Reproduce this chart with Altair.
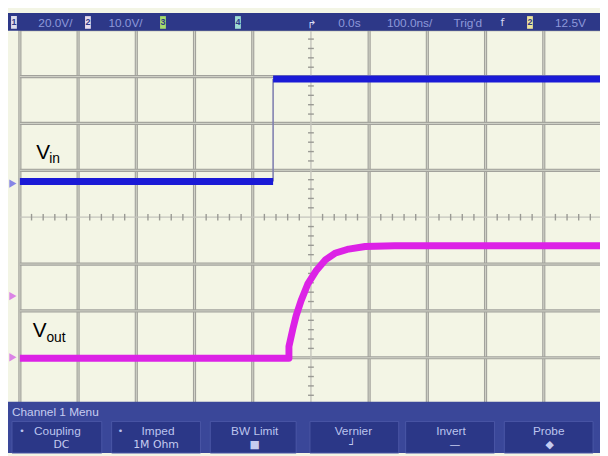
import altair as alt
import pandas as pd

# ---------------- data (time in ns at 100 ns/div, amplitude in screen divisions) -------------
vin_t = [-500, -65, -65, 497]
vin_div = [0.76, 0.76, 2.95, 2.95]

vout_t = [-500, -37.8, -37.8, -31.0, -25.4, -16.9, -5.6, 8.5, 25.4, 42.4, 64.9, 93.2, 144.0, 497]
vout_div = [-3.01, -3.01, -2.76, -2.38, -2.10, -1.78, -1.43, -1.15, -0.905, -0.764, -0.68, -0.625, -0.61, -0.61]

grid_t = [-500, -400, -300, -200, -100, 100, 200, 300, 400]
grid_div = [-4, -3, -2, -1, 1, 2, 3, 4]

status_text = ["20.0V/", "10.0V/", "0.0s", "100.0ns/", "Trig'd", "12.5V"]
status_x = [-439.0, -318.6, 66.1, 169.5, 269.5, 445.8]
chan_boxes = ["1", "2", "3", "4", "2"]
chan_box_x = [-510.2, -383.1, -254.2, -125.4, 376.3]
chan_box_col = ["#dcdcec", "#e6dcee", "#a6dc6c", "#9edcd4", "#ece49c"]

btn_line1 = ["Coupling", "Imped", "BW Limit", "Vernier", "Invert", "Probe"]
btn_line1_x = [-435.6, -262.7, -96.6, 72.9, 240.7, 408.5]
btn_line2 = ["DC", "1M Ohm", "■", "┘", "—", "◆"]
btn_line2_x = [-428.8, -266.1, -96.6, 71.2, 247.5, 410.2]
btn_left = [-513.6, -342.4, -172.9, -1.7, 162.7, 332.2]
btn_right = [-359.3, -189.8, -25.4, 150.8, 315.3, 484.7]

# ---------------- scales ----------------
XMIN, XMAX = -534.0, 496.6
YMIN, YMAX = -5.032, 4.568
xs = alt.Scale(domain=[XMIN, XMAX], nice=False, zero=False)
ys = alt.Scale(domain=[YMIN, YMAX], nice=False, zero=False)


def ex(f="x"):
    return alt.X(f"{f}:Q", scale=xs, axis=None)


def ey(f="y"):
    return alt.Y(f"{f}:Q", scale=ys, axis=None)


FONT = "Liberation Sans"

# ---------------- grid ----------------
vgrid = pd.DataFrame({"x": grid_t, "y": -4.0, "y2": 4.0})
hgrid = pd.DataFrame({"y": grid_div, "x": -500.0, "x2": XMAX})

vg_outer = alt.Chart(vgrid).mark_rule(color="#a2a29c", strokeWidth=3.2).encode(
    x=ex(), y=ey(), y2=alt.Y2("y2:Q"))
vg_inner = alt.Chart(vgrid).mark_rule(color="#d8dace", strokeWidth=0.9).encode(
    x=ex(), y=ey(), y2=alt.Y2("y2:Q"))
hg_outer = alt.Chart(hgrid).mark_rule(color="#a2a29c", strokeWidth=3.2).encode(
    x=ex(), x2=alt.X2("x2:Q"), y=ey())
hg_inner = alt.Chart(hgrid).mark_rule(color="#d8dace", strokeWidth=0.9).encode(
    x=ex(), x2=alt.X2("x2:Q"), y=ey())

cv = alt.Chart(pd.DataFrame({"x": [0.0], "y": [-4.0], "y2": [4.0]})).mark_rule(
    color="#c4c4bc", strokeWidth=1.4).encode(x=ex(), y=ey(), y2=alt.Y2("y2:Q"))
ch = alt.Chart(pd.DataFrame({"y": [0.0], "x": [-500.0], "x2": [XMAX]})).mark_rule(
    color="#c4c4bc", strokeWidth=1.4).encode(x=ex(), x2=alt.X2("x2:Q"), y=ey())

# minor ticks on the centre graticule (0.2 div)
tick_h = pd.DataFrame({"x": [k * 20.0 for k in range(-25, 25) if k % 5 != 0],
                       "y": -0.07, "y2": 0.07})
tick_v = pd.DataFrame({"y": [k * 0.2 for k in range(-20, 21) if k % 5 != 0],
                       "x": -5.0, "x2": 5.0})
th = alt.Chart(tick_h).mark_rule(color="#9a9a94", strokeWidth=1.4).encode(
    x=ex(), y=ey(), y2=alt.Y2("y2:Q"))
tv = alt.Chart(tick_v).mark_rule(color="#9a9a94", strokeWidth=1.4).encode(
    x=ex(), x2=alt.X2("x2:Q"), y=ey())

# ---------------- traces ----------------
vin_df = pd.DataFrame({"x": vin_t, "y": vin_div, "i": range(len(vin_t)),
                       "seg": ["lo", "lo", "hi", "hi"]})
vin_line = alt.Chart(vin_df).mark_line(color="#1a1ad6", strokeWidth=7, strokeCap="butt").encode(
    x=ex(), y=ey(), detail="seg:N", order="i:Q")
edge_df = pd.DataFrame({"x": [vin_t[1]], "y": [vin_div[1]], "y2": [vin_div[2]]})
vin_edge = alt.Chart(edge_df).mark_rule(color="#8080b0", strokeWidth=1.6).encode(
    x=ex(), y=ey(), y2=alt.Y2("y2:Q"))

vout_df = pd.DataFrame({"x": vout_t, "y": vout_div, "i": range(len(vout_t))})
vout_line = alt.Chart(vout_df).mark_line(color="#dc22e6", strokeWidth=7, strokeJoin="round",
                                         strokeCap="butt").encode(x=ex(), y=ey(), order="i:Q")

# ---------------- trace labels ----------------
lab_main = pd.DataFrame({"x": [-460.2, -466.1], "y": [1.242, -2.547], "t": ["V", "V"]})
lab_sub = pd.DataFrame({"x": [-449.5, -454.5], "y": [1.158, -2.653], "t": ["in", "out"]})
lm = alt.Chart(lab_main).mark_text(font=FONT, fontSize=21, color="#000000", align="center",
                                   baseline="alphabetic").encode(x=ex(), y=ey(), text="t:N")
ls = alt.Chart(lab_sub).mark_text(font=FONT, fontSize=14, color="#000000", align="left",
                                  baseline="alphabetic").encode(x=ex(), y=ey(), text="t:N")

# channel markers at left edge
mk = pd.DataFrame({"x": [-512.0, -512.0, -512.0], "y": [0.716, -1.684, -2.99],
                   "c": ["#7a7ae6", "#d878e6", "#d878e6"]})
markers = alt.Chart(mk).mark_point(shape="triangle-right", filled=True, size=70, opacity=0.9).encode(
    x=ex(), y=ey(), color=alt.Color("c:N", scale=None))

# ---------------- status bar ----------------
top_bar = alt.Chart(pd.DataFrame({"x": [XMIN], "x2": [XMAX], "y": [3.98], "y2": [4.358]})).mark_rect(
    color="#2d3888").encode(x=ex(), x2=alt.X2("x2:Q"), y=ey(), y2=alt.Y2("y2:Q"))
st_df = pd.DataFrame({"x": status_x, "y": 4.15, "t": status_text})
st_text = alt.Chart(st_df).mark_text(font=FONT, fontSize=12, color="#8e98da", align="center",
                                     baseline="middle").encode(x=ex(), y=ey(), text="t:N")
cb_df = pd.DataFrame({"x": [v - 5 for v in chan_box_x], "x2": [v + 5 for v in chan_box_x],
                      "y": 4.02, "y2": 4.29, "t": chan_boxes, "c": chan_box_col, "xc": chan_box_x,
                      "ym": 4.155})
cb_rect = alt.Chart(cb_df).mark_rect().encode(x=ex(), x2=alt.X2("x2:Q"), y=ey(), y2=alt.Y2("y2:Q"),
                                              color=alt.Color("c:N", scale=None))
cb_text = alt.Chart(cb_df).mark_text(font=FONT, fontSize=9, fontWeight="bold", color="#2d3888",
                                     baseline="middle").encode(x=ex("xc"), y=ey("ym"), text="t:N")
trig_df = pd.DataFrame({"x": [1.7, 328.8], "y": [4.1, 4.15], "t": ["↱", "f"]})
trig = alt.Chart(trig_df).mark_text(font="DejaVu Sans", fontSize=11, color="#d8dcf4",
                                    baseline="middle").encode(x=ex(), y=ey(), text="t:N")

# ---------------- softkey menu ----------------
menu_bar = alt.Chart(pd.DataFrame({"x": [XMIN], "x2": [XMAX], "y": [YMIN], "y2": [-3.94]})).mark_rect(
    color="#3a4799").encode(x=ex(), x2=alt.X2("x2:Q"), y=ey(), y2=alt.Y2("y2:Q"))
menu_title = alt.Chart(pd.DataFrame({"x": [-513.6], "y": [-4.168], "t": ["Channel 1 Menu"]})).mark_text(
    font=FONT, fontSize=12, color="#c6ccf0", align="left", baseline="middle").encode(
    x=ex(), y=ey(), text="t:N")
btn_df = pd.DataFrame({"x": btn_left, "x2": btn_right, "y": YMIN, "y2": -4.358})
buttons = alt.Chart(btn_df).mark_rect(color="#2b3787", stroke="#4a56a6", strokeWidth=1).encode(
    x=ex(), x2=alt.X2("x2:Q"), y=ey(), y2=alt.Y2("y2:Q"))
b1 = alt.Chart(pd.DataFrame({"x": btn_line1_x, "y": -4.568, "t": btn_line1})).mark_text(
    font=FONT, fontSize=12, color="#bcc4ee", baseline="middle").encode(x=ex(), y=ey(), text="t:N")
b2 = alt.Chart(pd.DataFrame({"x": btn_line2_x, "y": -4.863, "t": btn_line2})).mark_text(
    font="DejaVu Sans", fontSize=11, color="#c6ccf0", baseline="middle").encode(x=ex(), y=ey(), text="t:N")
bullets = alt.Chart(pd.DataFrame({"x": [-496.6, -327.1], "y": -4.568, "t": ["•", "•"]})).mark_text(
    font=FONT, fontSize=10, color="#bcc4ee", baseline="middle").encode(x=ex(), y=ey(), text="t:N")

chart = alt.layer(
    vg_outer, vg_inner, hg_outer, hg_inner, cv, ch, th, tv,
    vin_edge, vin_line, vout_line, lm, ls, markers,
    top_bar, st_text, cb_rect, cb_text, trig,
    menu_bar, menu_title, buttons, b1, b2, bullets,
).properties(
    width=608, height=456,
    padding={"left": -8, "top": -8, "right": 0, "bottom": 0},
    autosize=alt.AutoSizeParams(type="none"),
    background="#f3f5e5",
).configure_view(stroke=None, fill="#f3f5e5")

chart.save("out.html", embed_options={"renderer": "svg", "actions": False})
